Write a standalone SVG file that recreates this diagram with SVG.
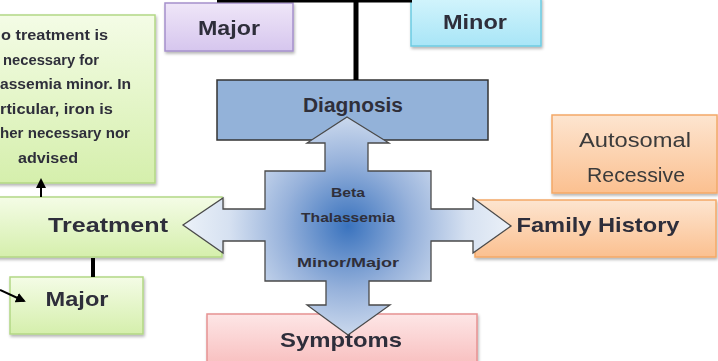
<svg xmlns="http://www.w3.org/2000/svg" width="718" height="361" viewBox="0 0 718 361">
  <defs>
    <linearGradient id="gPurple" x1="0" y1="0" x2="0" y2="1">
      <stop offset="0" stop-color="#efe6f8"/>
      <stop offset="1" stop-color="#d6c6ee"/>
    </linearGradient>
    <linearGradient id="gCyan" x1="0" y1="0" x2="0" y2="1">
      <stop offset="0" stop-color="#d2f4fc"/>
      <stop offset="1" stop-color="#a8e5f7"/>
    </linearGradient>
    <linearGradient id="gGreen" x1="0" y1="0" x2="0" y2="1">
      <stop offset="0" stop-color="#f4fce6"/>
      <stop offset="1" stop-color="#d5efac"/>
    </linearGradient>
    <linearGradient id="gOrange" x1="0" y1="0" x2="0" y2="1">
      <stop offset="0" stop-color="#fde5d0"/>
      <stop offset="1" stop-color="#fbc090"/>
    </linearGradient>
    <linearGradient id="gPink" x1="0" y1="0" x2="0" y2="1">
      <stop offset="0" stop-color="#fde6e6"/>
      <stop offset="1" stop-color="#f8bcbc"/>
    </linearGradient>
    <radialGradient id="gCross" cx="348" cy="226" r="170" gradientUnits="userSpaceOnUse">
      <stop offset="0" stop-color="#3a73be"/>
      <stop offset="0.38" stop-color="#97b2db"/>
      <stop offset="0.7" stop-color="#d6e1f1"/>
      <stop offset="1" stop-color="#eef3f9"/>
    </radialGradient>
    <filter id="shadow" x="-10%" y="-10%" width="130%" height="140%">
      <feGaussianBlur in="SourceAlpha" stdDeviation="1.5"/>
      <feOffset dx="1" dy="2" result="b"/>
      <feComponentTransfer><feFuncA type="linear" slope="0.3"/></feComponentTransfer>
      <feMerge><feMergeNode/><feMergeNode in="SourceGraphic"/></feMerge>
    </filter>
    <marker id="arrowHead" viewBox="0 0 10 10" refX="8" refY="5" markerWidth="5" markerHeight="5" orient="auto">
      <path d="M0,0 L10,5 L0,10 z" fill="#000"/>
    </marker>
  </defs>
  <style>
    .lbl { font-family: "Liberation Sans", Arial, sans-serif; font-weight: bold; fill: #2f2f3a; text-anchor: middle; }
    .reg { font-family: "Liberation Sans", Arial, sans-serif; fill: #3a3a3a; text-anchor: middle; }
    .note { font-family: "Liberation Sans", Arial, sans-serif; font-weight: bold; font-size: 15px; fill: #2f2f3a; }
    .green { fill: url(#gGreen); stroke: #b3d785; stroke-width: 1.5; }
    .orange { fill: url(#gOrange); stroke: #f4a867; stroke-width: 1.5; }
    .wire { stroke: #000; fill: none; }
  </style>

  <g id="major-top" filter="url(#shadow)">
    <rect x="165" y="3" width="128" height="48" fill="url(#gPurple)" stroke="#a590cb" stroke-width="1.5"/>
    <text class="lbl" x="229" y="35" font-size="20" textLength="62" lengthAdjust="spacingAndGlyphs">Major</text>
  </g>

  <g id="minor-top" filter="url(#shadow)">
    <rect x="411" y="-2" width="130" height="48" fill="url(#gCyan)" stroke="#6ccbe2" stroke-width="1.5"/>
    <text class="lbl" x="475" y="29" font-size="20" textLength="64" lengthAdjust="spacingAndGlyphs">Minor</text>
  </g>

  <g id="diagnosis">
    <rect x="217" y="80" width="271" height="60" fill="#93b2d9" stroke="#333" stroke-width="1.5"/>
    <text class="lbl" x="353" y="112" font-size="20" textLength="100" lengthAdjust="spacingAndGlyphs">Diagnosis</text>
  </g>

  <g id="note" filter="url(#shadow)">
    <rect x="-59" y="15" width="214" height="168" class="green"/>
    <text class="note" x="1" y="40" textLength="107" lengthAdjust="spacingAndGlyphs">o treatment is</text>
    <text class="note" x="3" y="64.5" textLength="96" lengthAdjust="spacingAndGlyphs">necessary for</text>
    <text class="note" x="0" y="89" textLength="131" lengthAdjust="spacingAndGlyphs">assemia minor. In</text>
    <text class="note" x="0" y="113.5" textLength="113" lengthAdjust="spacingAndGlyphs">rticular, iron is</text>
    <text class="note" x="0" y="138" textLength="130" lengthAdjust="spacingAndGlyphs">her necessary nor</text>
    <text class="note" x="48" y="162.5" text-anchor="middle" textLength="60" lengthAdjust="spacingAndGlyphs">advised</text>
  </g>

  <g id="treatment" filter="url(#shadow)">
    <rect x="-6" y="197" width="228" height="60" class="green"/>
    <text class="lbl" x="108" y="232" font-size="21" textLength="120" lengthAdjust="spacingAndGlyphs">Treatment</text>
  </g>

  <g id="major-bottom" filter="url(#shadow)">
    <rect x="10" y="277" width="133" height="57" class="green"/>
    <text class="lbl" x="77" y="306" font-size="20" textLength="63" lengthAdjust="spacingAndGlyphs">Major</text>
  </g>

  <g id="autosomal" filter="url(#shadow)">
    <rect x="552" y="115" width="165" height="78" class="orange"/>
    <text class="reg" x="635" y="147" font-size="20" textLength="112" lengthAdjust="spacingAndGlyphs">Autosomal</text>
    <text class="reg" x="636" y="182" font-size="20" textLength="98" lengthAdjust="spacingAndGlyphs">Recessive</text>
  </g>

  <g id="family-history" filter="url(#shadow)">
    <rect x="475" y="200" width="241" height="57" class="orange"/>
    <text class="lbl" x="598" y="232" font-size="21" textLength="163" lengthAdjust="spacingAndGlyphs">Family History</text>
  </g>

  <g id="symptoms" filter="url(#shadow)">
    <rect x="207" y="314" width="270" height="55" fill="url(#gPink)" stroke="#e69292" stroke-width="1.5"/>
    <text class="lbl" x="341" y="347" font-size="21" textLength="122" lengthAdjust="spacingAndGlyphs">Symptoms</text>
  </g>

  <!-- connectors -->
  <g id="connectors">
    <line class="wire" x1="217" y1="1" x2="412" y2="1" stroke-width="3"/>
    <line class="wire" x1="356" y1="0" x2="356" y2="80" stroke-width="5"/>
    <line class="wire" x1="93" y1="258" x2="93" y2="277" stroke-width="4"/>
    <line class="wire" x1="41" y1="197" x2="41" y2="180" stroke-width="2" marker-end="url(#arrowHead)"/>
    <line class="wire" x1="0" y1="290" x2="24" y2="301" stroke-width="2" marker-end="url(#arrowHead)"/>
  </g>

  <!-- four-way arrow around the central label -->
  <g id="beta-thalassemia">
    <path d="M347,117 L389,143 L368,143 L368,171 L431,171 L431,209 L473,209 L473,198 L511,226 L473,253 L473,241 L431,241 L431,281 L369,281 L369,305 L390,305 L348,335 L307,305 L326,305 L326,281 L265,281 L265,241 L223,241 L223,253 L183,225 L223,198 L223,209 L265,209 L265,171 L325,171 L325,143 L307,143 Z" fill="url(#gCross)" stroke="#4a4a4a" stroke-width="1.3" stroke-linejoin="miter"/>
    <text class="lbl" x="348" y="197" font-size="13" textLength="34" lengthAdjust="spacingAndGlyphs">Beta</text>
    <text class="lbl" x="348" y="222" font-size="13" textLength="94" lengthAdjust="spacingAndGlyphs">Thalassemia</text>
    <text class="lbl" x="348" y="267" font-size="13" textLength="102" lengthAdjust="spacingAndGlyphs">Minor/Major</text>
  </g>
</svg>
